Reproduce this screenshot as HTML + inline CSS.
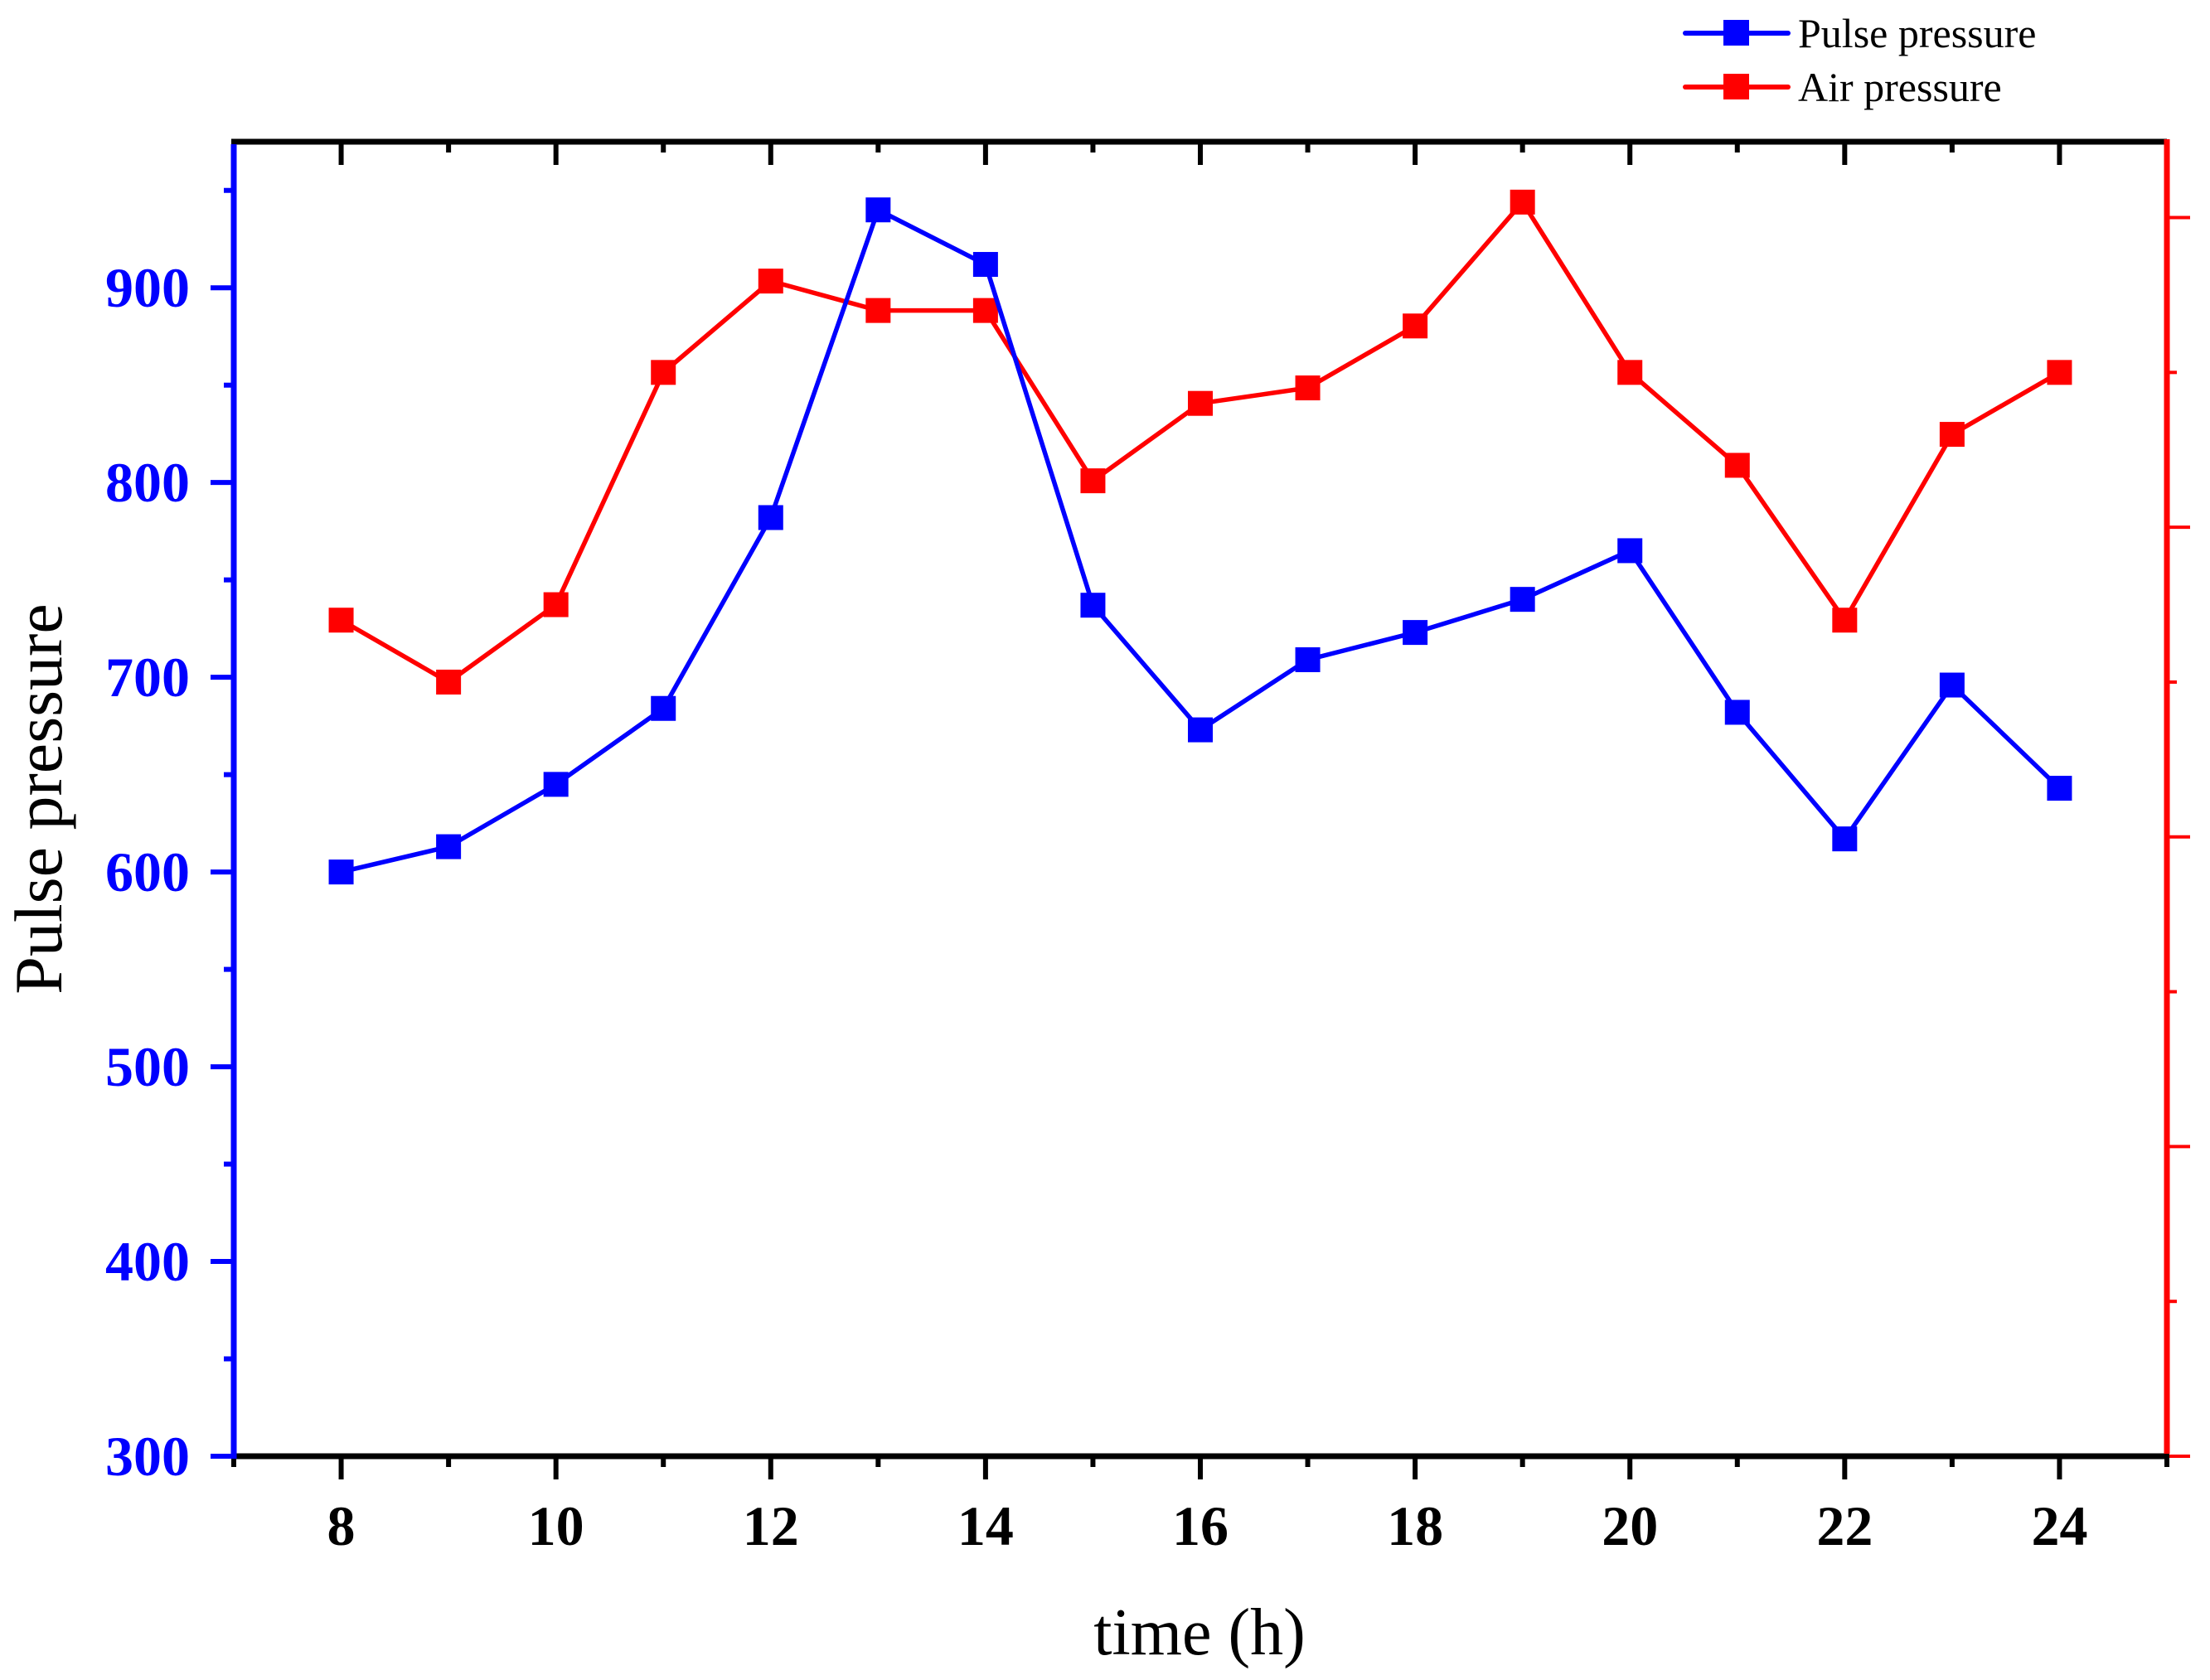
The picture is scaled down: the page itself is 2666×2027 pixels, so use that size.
<!DOCTYPE html>
<html><head><meta charset="utf-8"><style>
html,body{margin:0;padding:0;background:#fff;}
svg{display:block;}
text{font-family:"Liberation Serif","Times New Roman",serif;}
</style></head><body>
<svg id="chart" width="2666" height="2027" viewBox="0 0 2666 2027" xmlns="http://www.w3.org/2000/svg">
<g id="axes"></g>
<g id="series"></g>
<text x="1447" y="1996" font-size="80" text-anchor="middle" fill="#000">time (h)</text>
<text transform="translate(74,964) rotate(-90)" font-size="82" text-anchor="middle" fill="#000">Pulse pressure</text>
<g>
  <g>
    <line x1="2033" y1="40" x2="2157" y2="40" stroke="#0000ff" stroke-width="6" stroke-linecap="round"/>
    <rect x="2079" y="24" width="31" height="31" fill="#0000ff"/>
    <text x="2169" y="57" font-size="50" fill="#000">Pulse pressure</text>
  </g>
  <g>
    <line x1="2033" y1="105" x2="2157" y2="105" stroke="#ff0000" stroke-width="6" stroke-linecap="round"/>
    <rect x="2079" y="89" width="31" height="31" fill="#ff0000"/>
    <text x="2169" y="122" font-size="50" fill="#000">Air pressure</text>
  </g>
</g>
</svg>
<script>
const hours = [8,9,10,11,12,13,14,15,16,17,18,19,20,21,22,23,24];
const pulseValues = [600,613,645,684,782,940,912,737,673,709,723,740,765,682,617,696,643];
const airValues = [5.4,5.0,5.5,7.0,7.59,7.4,7.4,6.3,6.8,6.9,7.3,8.1,7.0,6.4,5.4,6.6,7.0];
const leftTickLabels = [300,400,500,600,700,800,900];
const xTickLabels = [8,10,12,14,16,18,20,22,24];

const L=282,R=2614,T=171,B=1757;
const xMin=7,xMax=25,yMin=300,yMax=975,rMin=0,rMax=8.49;
const xs=v=>L+(v-xMin)/(xMax-xMin)*(R-L);
const ys=v=>B-(v-yMin)/(yMax-yMin)*(B-T);
const rs=v=>B-(v-rMin)/(rMax-rMin)*(B-T);
const NS="http://www.w3.org/2000/svg";
const axes=document.getElementById('axes');
const series=document.getElementById('series');
function mk(tag,attrs,parent){const e=document.createElementNS(NS,tag);for(const k in attrs)e.setAttribute(k,attrs[k]);parent.appendChild(e);return e;}

for(let v=7;v<=25;v++){
  const major=v%2===0;const len=major?28:13;const x=xs(v);
  let t=mk('line',{x1:x,x2:x,y1:B,y2:B+len,stroke:'#000','stroke-width':6},axes);
  
  
  let t2=mk('line',{x1:x,x2:x,y1:T,y2:T+len,stroke:'#000','stroke-width':6},axes);
  
  
}
xTickLabels.forEach(v=>{
  const e=mk('text',{x:xs(v),y:1864,'font-size':68,'font-weight':'bold','text-anchor':'middle',fill:'#000'},axes);
  e.textContent=v;
  
  
});
for(let v=300;v<=950;v+=50){
  const major=v%100===0;const len=major?28:12;const y=ys(v);
  const t=mk('line',{x1:L-len,x2:L,y1:y,y2:y,stroke:'#0000ff','stroke-width':6},axes);
  
  
}
leftTickLabels.forEach(v=>{
  const e=mk('text',{x:229,y:ys(v)+23,'font-size':68,'font-weight':'bold','text-anchor':'end',fill:'#0000ff'},axes);
  e.textContent=v;
  
  
});
for(let v=0;v<=8;v+=1){
  const major=v%2===0;const len=major?28:12;const y=rs(v);
  const t=mk('line',{x1:R,x2:R+len,y1:y,y2:y,stroke:'#ff0000','stroke-width':4},axes);
  
  
}
let a=mk('line',{x1:L-3,x2:R,y1:T,y2:T,stroke:'#000','stroke-width':7},axes);


a=mk('line',{x1:L-3,x2:R+3,y1:B,y2:B,stroke:'#000','stroke-width':7},axes);


a=mk('line',{x1:L,x2:L,y1:T+3,y2:B+3,stroke:'#0000ff','stroke-width':7},axes);


a=mk('line',{x1:R,x2:R,y1:T-3,y2:B-3,stroke:'#ff0000','stroke-width':7},axes);



function drawSeries(vals,scale,color,name){
  const g=mk('g',{},series);
  
  
  const pts=vals.map((v,i)=>xs(hours[i])+','+scale(v)).join(' ');
  const pl=mk('polyline',{points:pts,fill:'none',stroke:color,'stroke-width':5.5,'stroke-linejoin':'round'},g);
  
  
  vals.forEach((v,i)=>{
    const r=mk('rect',{x:xs(hours[i])-15,y:scale(v)-15,width:30,height:30,fill:color},g);
    
    
  });
}
drawSeries(airValues,rs,'#ff0000','air-pressure');
drawSeries(pulseValues,ys,'#0000ff','pulse-pressure');
</script>
</body></html>
